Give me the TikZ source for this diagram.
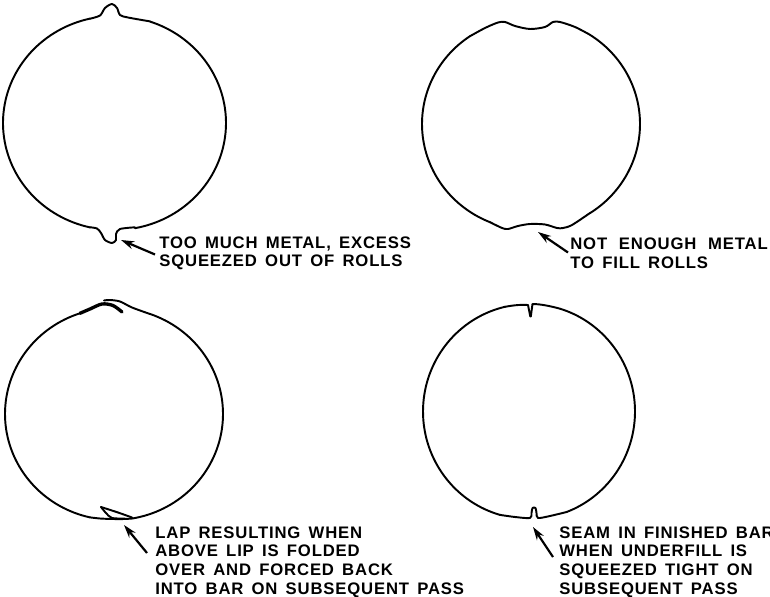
\documentclass[tikz,border=0pt]{standalone}
\usepackage{fontspec}
\setmainfont[LetterSpace=5,WordSpace=1.5]{Liberation Sans}
\usetikzlibrary{arrows.meta}
\tikzset{
	rim/.style = {line width=1.1pt, line cap=round, line join=round},
	note/.style = {anchor=west, inner sep=0pt, align=left, font=\fontsize{9.5}{10.6}\selectfont\bfseries},
	pointer/.style = {line width=1.25pt, -{Stealth[length=7.5pt,width=4.6pt]}}
}
% centre x, centre y, x radius, y radius, first angle, last angle
\newcommand{\rimarc}[6]{\draw [rim, domain=#5:#6, samples=70] plot({#1+#3*cos(\x)}, {#2+#4*sin(\x)});}
\begin{document}
\begin{tikzpicture}[x = 0.02cm, y = -0.02cm]
	\useasboundingbox (0,0) rectangle (770,597);
	% too much metal
	\rimarc{114.5}{123}{111.5}{107}{288.6}{439.4}
	\rimarc{114.5}{123}{111.5}{107}{102.7}{257.3}
	\draw [rim] plot[smooth] coordinates {(90,18.7) (100,15.5) (105,8) (112,4) (117,8) (120,15) (128,17.5) (150,21.4)};
	\draw [rim] plot[smooth] coordinates {(135,227.3) (120,229) (116,234) (116,240) (112,243) (105,240) (101,233) (97,228.5) (90,227.3)};
	\coordinate (fin) at (121,240);
	\node (toomuch) at (159,253.5)[note]{TOO MUCH METAL, EXCESS\\SQUEEZED OUT OF ROLLS};
	\draw [pointer] ([shift={(-4,1)}]toomuch.west) -- (fin);
	% not enough metal
	\rimarc{531}{124}{109}{106}{302.8}{417.2}
	\rimarc{531}{124}{109}{106}{112}{236}
	\draw [rim] plot[smooth] coordinates {(470,36.2) (485,28) (498,22.5) (505,22) (515,26) (530,29) (545,27) (553,22) (560,22) (575,27) (590,34.8)};
	\draw [rim] plot[smooth] coordinates {(590,213) (572,225) (563,228) (557,228) (545,224.5) (530,224) (518,226) (508,229) (502,228) (490,222.2)};
	\coordinate (flat) at (538,232);
	\node (notenough) at (570,253.5)[note]{NOT\hspace{2pt} ENOUGH\hspace{2pt} METAL\\TO FILL ROLLS};
	\draw [pointer] ([shift={(-2,-1)}]notenough.west) -- (flat);
	% lap
	\rimarc{114}{414}{109}{106}{289.3}{440.5}
	\rimarc{114}{414}{109}{106}{102.7}{251.8}
	\draw [rim] plot[smooth] coordinates {(150,314) (132,307.5) (120,301.5) (110,300) (104,300.5)};
	\draw [rim, line width=1.9pt] plot[smooth] coordinates {(80,313.3) (90,309) (102,304) (113,305.5) (122,312)};
	\draw [rim] plot[smooth] coordinates {(132,517.5) (118,512.5) (101,507)};
	\draw [rim] plot[smooth] coordinates {(101,507) (106,513) (112,518) (125,518.5)};
	\draw [rim] plot[smooth] coordinates {(90,517.4) (100,518.5) (112,519) (125,519) (132,518.5)};
	\coordinate (fold) at (124,525);
	\node (lap) at (155,562)[note]{LAP RESULTING WHEN\\ABOVE LIP IS FOLDED\\OVER AND FORCED BACK\\INTO BAR ON SUBSEQUENT PASS};
	\draw [pointer] ([shift={(-8,-9)}]lap.west) -- (fold);
	% seam
	\rimarc{529}{411.5}{106}{107.5}{287}{429}
	\rimarc{529}{411.5}{106}{107.5}{105.9}{257}
	\draw [rim] (505,306.8) .. controls (515,305) and (522,304.5) .. (528,305) -- (530.3,316.5) -- (530.8,316.5) -- (532.5,304) .. controls (540,304) and (550,306) .. (560,308.7);
	\draw [rim] plot[smooth] coordinates {(567,511.9) (550,516) (538,518) (536.5,513) (535.5,508) (532.5,508) (531.5,513) (530,518) (515,517) (500,514.9)};
	\coordinate (closed) at (533,527);
	\node (seam) at (559,562)[note]{SEAM IN FINISHED BAR\\WHEN UNDERFILL IS\\SQUEEZED TIGHT ON\\SUBSEQUENT PASS};
	\draw [pointer] ([shift={(-6,-5)}]seam.west) -- (closed);
\end{tikzpicture}
\end{document}
